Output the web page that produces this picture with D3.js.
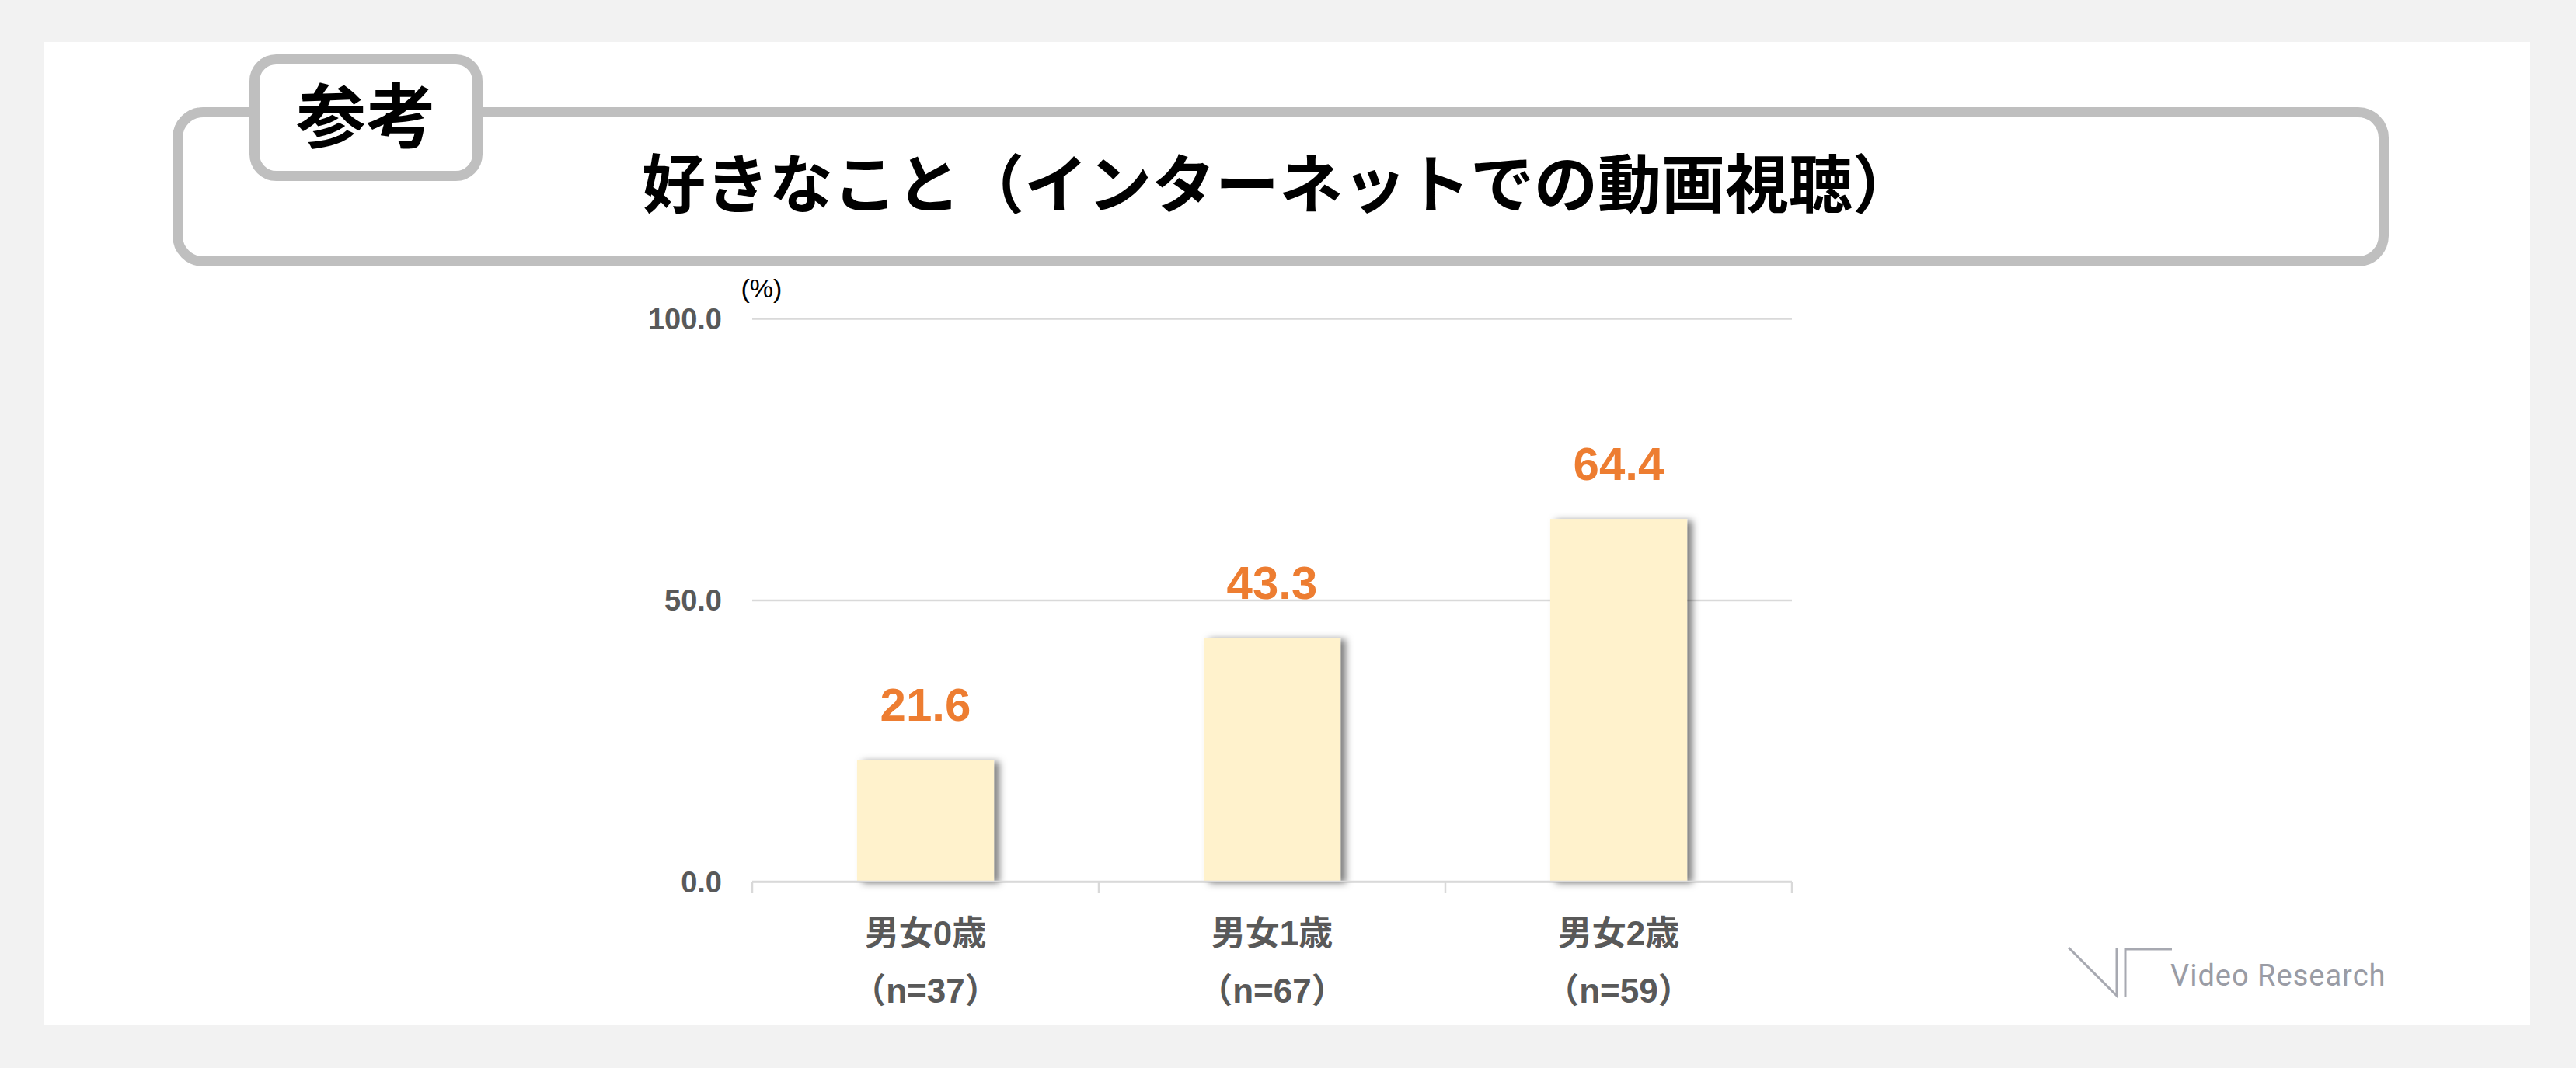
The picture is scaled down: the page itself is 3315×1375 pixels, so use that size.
<!DOCTYPE html>
<html>
<head>
<meta charset="utf-8">
<script src="https://cdn.jsdelivr.net/npm/d3@7"></script>
<style>
  html, body { margin: 0; padding: 0; background: #f2f2f2; }
  svg { display: block; }
</style>
</head>
<body>
<div id="grafico"></div>
<script>
// dados do grafico
var categorias = ["男女0歳", "男女1歳", "男女2歳"];
var amostras = ["（n=37）", "（n=67）", "（n=59）"];
var valores = [21.6, 43.3, 64.4];
var ticksY = [0, 50, 100];
var titulo = "好きなこと（インターネットでの動画視聴）";
var etiqueta = "参考";

var largura = 3315, altura = 1375;
var fonteNum = "'Liberation Sans', Arial, 'Noto Sans CJK JP', sans-serif";
var fonteJp = "'Noto Sans CJK JP', 'Liberation Sans', sans-serif";

var svg = d3.select("#grafico")
    .append("svg")
    .attr("width", largura)
    .attr("height", altura);

// sombra das barras
var defs = svg.append("defs");
var filtro = defs.append("filter")
    .attr("id", "sombra")
    .attr("x", "-20%").attr("y", "-20%")
    .attr("width", "150%").attr("height", "140%");
filtro.append("feDropShadow")
    .attr("dx", 7).attr("dy", 2)
    .attr("stdDeviation", 5)
    .attr("flood-color", "#000")
    .attr("flood-opacity", 0.5);

// fundo
svg.append("rect").attr("width", largura).attr("height", altura).attr("fill", "#f2f2f2");
svg.append("rect")
    .attr("x", 57).attr("y", 54)
    .attr("width", 3256 - 57).attr("height", 1320 - 54)
    .attr("fill", "#ffffff");

// caixa do titulo
svg.append("rect")
    .attr("x", 228.5).attr("y", 144.5)
    .attr("width", 3067.5 - 228.5).attr("height", 336.5 - 144.5)
    .attr("rx", 33).attr("ry", 33)
    .attr("fill", "#ffffff")
    .attr("stroke", "#bfbfbf")
    .attr("stroke-width", 13);

svg.append("rect")
    .attr("x", 327.5).attr("y", 76.5)
    .attr("width", 614.5 - 327.5).attr("height", 226.5 - 76.5)
    .attr("rx", 28).attr("ry", 28)
    .attr("fill", "#ffffff")
    .attr("stroke", "#bfbfbf")
    .attr("stroke-width", 13);

svg.append("text")
    .attr("x", 471).attr("y", 183)
    .attr("text-anchor", "middle")
    .attr("font-family", fonteJp)
    .attr("font-weight", "bold")
    .attr("font-size", 90)
    .attr("fill", "#000")
    .text(etiqueta);

svg.append("text")
    .attr("x", 1646).attr("y", 267)
    .attr("text-anchor", "middle")
    .attr("font-family", fonteJp)
    .attr("font-weight", "bold")
    .attr("font-size", 82)
    .attr("fill", "#000")
    .text(titulo);

// escalas
var x = d3.scaleBand()
    .domain(categorias)
    .range([968, 2306])
    .paddingInner(0.605)
    .paddingOuter(0.3025);

var y = d3.scaleLinear()
    .domain([0, 100])
    .range([1135, 410]);

// eixo Y com linhas de grade
var eixoY = svg.append("g")
    .attr("transform", "translate(968,0)")
    .call(d3.axisLeft(y)
        .tickValues(ticksY)
        .tickFormat(d3.format(".1f"))
        .tickSize(-(2306 - 968))
        .tickPadding(39));
eixoY.select(".domain").remove();
eixoY.selectAll(".tick line")
    .attr("stroke", "#d9d9d9")
    .attr("stroke-width", 2.5);
eixoY.selectAll(".tick text")
    .attr("font-family", fonteNum)
    .attr("font-weight", "bold")
    .attr("font-size", 38)
    .attr("fill", "#595959")
    .attr("dy", "0.35em");

svg.append("text")
    .attr("x", 980).attr("y", 383)
    .attr("text-anchor", "middle")
    .attr("font-family", fonteNum)
    .attr("font-size", 34)
    .attr("fill", "#000")
    .text("(%)");

// marcas entre categorias
var limites = categorias.map(function(c) { return x(c) - x.step() * x.paddingInner() / 2; });
limites.push(limites[limites.length - 1] + x.step());
svg.append("g").selectAll("line")
    .data(limites)
    .enter()
    .append("line")
    .attr("x1", function(d) { return d; })
    .attr("x2", function(d) { return d; })
    .attr("y1", y(0))
    .attr("y2", y(0) + 15)
    .attr("stroke", "#d9d9d9")
    .attr("stroke-width", 2.5);

// barras
svg.append("g").selectAll("rect")
    .data(valores)
    .enter()
    .append("rect")
    .attr("x", function(d, i) { return x(categorias[i]); })
    .attr("y", function(d) { return y(d); })
    .attr("width", x.bandwidth())
    .attr("height", function(d) { return y(0) - y(d); })
    .attr("fill", "#fff2cc")
    .attr("filter", "url(#sombra)");

// linha base por cima das barras
svg.append("line")
    .attr("x1", 968).attr("x2", 2306)
    .attr("y1", y(0)).attr("y2", y(0))
    .attr("stroke", "#d9d9d9")
    .attr("stroke-width", 2.5);

// rotulos de valor
svg.append("g").selectAll("text")
    .data(valores)
    .enter()
    .append("text")
    .attr("x", function(d, i) { return x(categorias[i]) + x.bandwidth() / 2; })
    .attr("y", function(d) { return y(d) - 50; })
    .attr("text-anchor", "middle")
    .attr("font-family", fonteNum)
    .attr("font-weight", "bold")
    .attr("font-size", 60)
    .attr("fill", "#ed7d31")
    .text(function(d) { return d.toFixed(1); });

// rotulos do eixo X
var rotulosX = svg.append("g").selectAll("text")
    .data(categorias)
    .enter()
    .append("text")
    .attr("text-anchor", "middle")
    .attr("font-family", fonteNum)
    .attr("font-weight", "bold")
    .attr("font-size", 44)
    .attr("fill", "#595959");
rotulosX.append("tspan")
    .attr("x", function(d) { return x(d) + x.bandwidth() / 2; })
    .attr("y", 1217)
    .text(function(d) { return d; });
rotulosX.append("tspan")
    .attr("x", function(d) { return x(d) + x.bandwidth() / 2; })
    .attr("y", 1291)
    .text(function(d, i) { return amostras[i]; });

// logotipo
var logo = svg.append("g")
    .attr("fill", "none")
    .attr("stroke", "#a7a9b1")
    .attr("stroke-width", 3);
logo.append("path").attr("d", "M2662,1220 L2724,1282 L2724,1220");
logo.append("path").attr("d", "M2735,1283 L2735,1222 L2795,1222");
svg.append("text")
    .attr("x", 2793).attr("y", 1269)
    .attr("font-family", "Roboto, sans-serif")
    .attr("font-weight", 400)
    .attr("font-size", 38)
    .attr("letter-spacing", 1)
    .attr("fill", "#9a9ca5")
    .text("Video Research");
</script>
</body>
</html>
